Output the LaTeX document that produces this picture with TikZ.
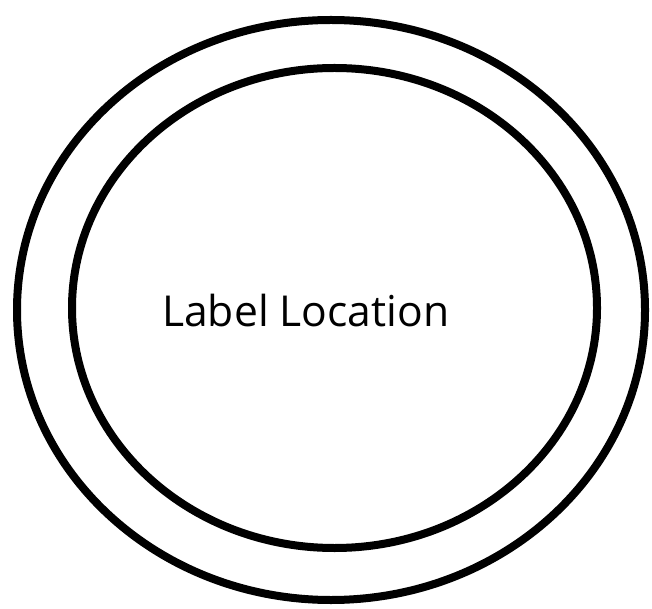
\documentclass[tikz,border=0pt]{standalone}
\usepackage{fontspec}
\setmainfont{Open Sans}
\begin{document}
\begin{tikzpicture}[x=1pt,y=1pt,
  ring/.style={draw=black, line width=8pt}]
\useasboundingbox (0,0) rectangle (652,608);
\draw[ring] (331,298) ellipse [x radius=314, y radius=290];
\draw[ring] (334.5,300) ellipse [x radius=262.5, y radius=240];
\node[anchor=base west, inner sep=0pt, font=\fontsize{42.6}{48}\selectfont] (lbl) at (162,281) {Label Location};
\end{tikzpicture}
\end{document}
